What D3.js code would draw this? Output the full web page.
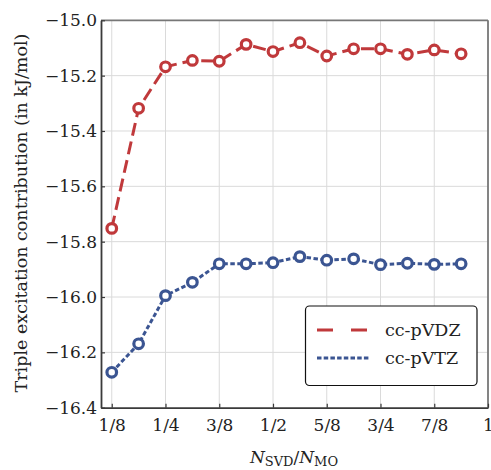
<!DOCTYPE html>
<html>
<head>
<meta charset="utf-8">
<script src="https://cdn.jsdelivr.net/npm/d3@7/dist/d3.min.js"></script>
<style>
  html, body { margin: 0; padding: 0; background: #fff; }
  svg { display: block; }
  text { font-family: "DejaVu Serif", "Liberation Serif", serif; fill: #222; }
</style>
</head>
<body>
<svg id="chart" width="491" height="470"></svg>
<script>
// Fraction of SVD-retained orbitals, in sixteenths from 2/16 to 15/16
const ratios = [2, 3, 4, 5, 6, 7, 8, 9, 10, 11, 12, 13, 14, 15].map(k => k / 16);

// Triple excitation contribution (kJ/mol)
const vdzValues = [-15.752, -15.318, -15.168, -15.145, -15.148, -15.087, -15.113,
                   -15.081, -15.129, -15.103, -15.103, -15.123, -15.107, -15.121];
const vtzValues = [-16.272, -16.169, -15.995, -15.947, -15.880, -15.880, -15.876,
                   -15.854, -15.867, -15.862, -15.883, -15.878, -15.882, -15.880];

const seriesNames = ["cc-pVDZ", "cc-pVTZ"];

const xTickValues = [1/8, 2/8, 3/8, 4/8, 5/8, 6/8, 7/8, 1];
const xTickLabels = ["1/8", "1/4", "3/8", "1/2", "5/8", "3/4", "7/8", "1"];
const yTickValues = [-16.4, -16.2, -16.0, -15.8, -15.6, -15.4, -15.2, -15.0];
const yTickLabels = ["\u221216.4", "\u221216.2", "\u221216.0", "\u221215.8",
                     "\u221215.6", "\u221215.4", "\u221215.2", "\u221215.0"];

const svg = d3.select("#chart");
const plotLeft = 101, plotRight = 488, plotTop = 20.3, plotBottom = 407.7;

const x = d3.scaleLinear().domain([0.1, 1.0]).range([plotLeft, plotRight]);
const y = d3.scaleLinear().domain([-16.4, -15.0]).range([plotBottom, plotTop]);

const red = "#c0393b", blue = "#3b5592";
const fontSize = 17;

// grid
const grid = svg.append("g").attr("stroke", "#dadada").attr("stroke-width", 1);
grid.selectAll("line.v").data(xTickValues.slice(0, -1)).join("line")
  .attr("x1", d => x(d)).attr("x2", d => x(d)).attr("y1", plotTop).attr("y2", plotBottom);
grid.selectAll("line.h").data(yTickValues.slice(1, -1)).join("line")
  .attr("x1", plotLeft).attr("x2", plotRight).attr("y1", d => y(d)).attr("y2", d => y(d));

// frame: top and right lighter
svg.append("line").attr("x1", plotLeft).attr("x2", plotRight).attr("y1", plotTop).attr("y2", plotTop)
  .attr("stroke", "#777").attr("stroke-width", 1.8);
svg.append("line").attr("x1", plotRight).attr("x2", plotRight).attr("y1", plotTop).attr("y2", plotBottom)
  .attr("stroke", "#777").attr("stroke-width", 1.8);

// axes
const xAxis = d3.axisBottom(x).tickValues(xTickValues)
  .tickFormat((d, i) => xTickLabels[i]).tickSizeInner(-4).tickSizeOuter(0).tickPadding(11);
const yAxis = d3.axisLeft(y).tickValues(yTickValues)
  .tickFormat((d, i) => yTickLabels[i]).tickSizeInner(-4).tickSizeOuter(0).tickPadding(4);

const gx = svg.append("g").attr("transform", `translate(0,${plotBottom})`).call(xAxis);
const gy = svg.append("g").attr("transform", `translate(${plotLeft},0)`).call(yAxis);
[gx, gy].forEach(g => {
  g.select(".domain").attr("stroke", "#3a3a3a").attr("stroke-width", 1.8);
  g.selectAll(".tick line").attr("stroke", "#3a3a3a").attr("stroke-width", 1.2);
  g.selectAll(".tick text").attr("font-size", fontSize)
    .attr("font-family", "DejaVu Serif, serif").attr("fill", "#222");
});

// series
const series = [
  { name: seriesNames[0], values: vdzValues, color: red, dash: "13,6" },
  { name: seriesNames[1], values: vtzValues, color: blue, dash: "4.5,2.5" }
];
const line = d3.line().x(d => x(d[0])).y(d => y(d[1]));

series.forEach(s => {
  const pts = ratios.map((r, i) => [r, s.values[i]]);
  svg.append("path").datum(pts)
    .attr("d", line).attr("fill", "none")
    .attr("stroke", s.color).attr("stroke-width", 3)
    .attr("stroke-dasharray", s.dash);
  svg.append("g").selectAll("circle").data(pts).join("circle")
    .attr("cx", d => x(d[0])).attr("cy", d => y(d[1])).attr("r", 4.8)
    .attr("fill", "#fff").attr("stroke", s.color).attr("stroke-width", 3.2);
});

// legend
const lg = svg.append("g");
lg.append("rect").attr("x", 305.5).attr("y", 306).attr("width", 171.5).attr("height", 79.5)
  .attr("rx", 4).attr("fill", "#fff").attr("stroke", "#111").attr("stroke-width", 1.2);
const legendDash = ["16,18", "4.5,2.2"];
series.forEach((s, i) => {
  const ly = 330 + i * 28;
  lg.append("line").attr("x1", 317).attr("x2", 370).attr("y1", ly).attr("y2", ly)
    .attr("stroke", s.color).attr("stroke-width", 3).attr("stroke-dasharray", legendDash[i]);
  lg.append("text").attr("x", 385).attr("y", ly + 6).attr("font-size", 17.5).text(s.name);
});

// axis titles
const xt = svg.append("text").attr("x", 294).attr("y", 463)
  .attr("text-anchor", "middle").attr("font-size", fontSize);
xt.append("tspan").attr("font-style", "italic").text("N");
xt.append("tspan").attr("font-size", 13).attr("dy", 3).text("SVD");
xt.append("tspan").attr("dy", -3).text("/");
xt.append("tspan").attr("font-style", "italic").text("N");
xt.append("tspan").attr("font-size", 13).attr("dy", 3).text("MO");

svg.append("text")
  .attr("transform", "translate(27,213) rotate(-90)")
  .attr("text-anchor", "middle").attr("font-size", 17.5)
  .text("Triple excitation contribution (in kJ/mol)");
</script>
</body>
</html>
